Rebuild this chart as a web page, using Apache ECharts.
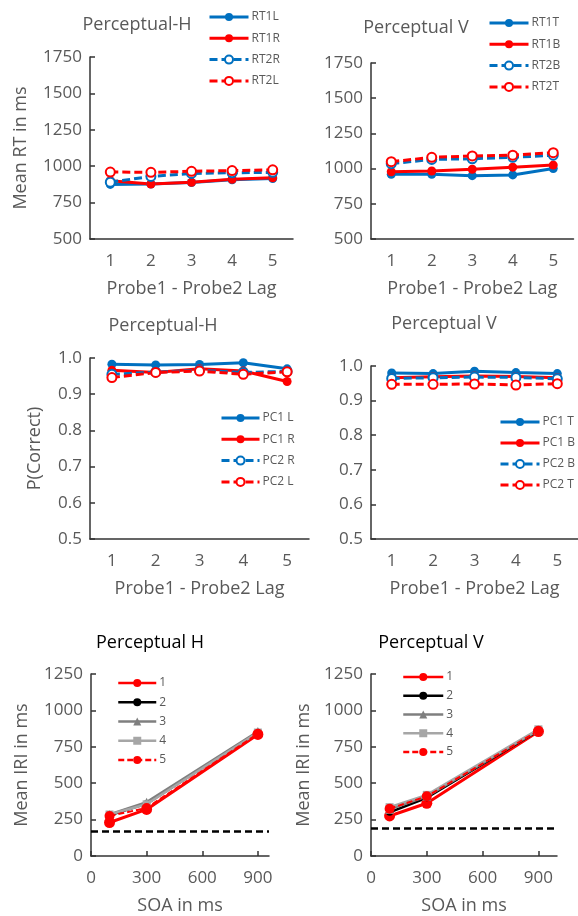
<!DOCTYPE html>
<html>
<head>
<meta charset="utf-8">
<script src="https://cdn.jsdelivr.net/npm/echarts@6/dist/echarts.min.js"></script>
<style>
  html, body { margin: 0; padding: 0; background: #fff; }
  #chart { width: 578px; height: 916px; }
</style>
</head>
<body>
<div id="chart"></div>
<script>
// lag categories (top and middle rows)
const lags = ['1', '2', '3', '4', '5'];

// Perceptual-H, mean RT
const rt1L = [875, 878, 888, 907, 915];
const rt1R = [900, 878, 889, 910, 920];
const rt2R = [890, 930, 950, 955, 958];
const rt2L = [960, 958, 965, 970, 975];

// Perceptual V, mean RT
const rt1T = [960, 960, 950, 955, 1000];
const rt1B = [978, 983, 995, 1010, 1025];
const rt2B = [1035, 1065, 1070, 1080, 1095];
const rt2T = [1049, 1080, 1090, 1095, 1113];

// Perceptual-H, P(correct)
const pc1L = [0.983, 0.981, 0.982, 0.987, 0.970];
const pc1R = [0.966, 0.960, 0.970, 0.964, 0.935];
const pc2R = [0.955, 0.961, 0.966, 0.960, 0.963];
const pc2L = [0.946, 0.960, 0.964, 0.955, 0.962];

// Perceptual V, P(correct)
const pc1T = [0.980, 0.978, 0.985, 0.981, 0.978];
const pc1B = [0.966, 0.969, 0.971, 0.970, 0.966];
const pc2B = [0.964, 0.966, 0.968, 0.967, 0.963];
const pc2T = [0.947, 0.947, 0.948, 0.945, 0.949];

// SOA (ms) and mean IRI, bottom row
const soa = [100, 300, 900];
const iriH1 = [230, 320, 835];
const iriH2 = [280, 360, 850];
const iriH3 = [285, 370, 855];
const iriH4 = [285, 355, 848];
const iriH5 = [275, 330, 840];
const iriV1 = [275, 362, 855];
const iriV2 = [300, 400, 860];
const iriV3 = [320, 410, 865];
const iriV4 = [335, 420, 870];
const iriV5 = [325, 410, 860];
const baselineH = 170;
const baselineV = 190;

const BLUE = '#0070C0';
const RED = '#FF0000';
const GRAY_TXT = '#595959';
const FONT = 'Open Sans';

const chart = echarts.init(document.getElementById('chart'));

function pairs(ys) {
  return soa.map((x, i) => [x, ys[i]]);
}

function lagLine(name, data, color, dashed, idx) {
  return {
    name: name, type: 'line', data: data,
    xAxisIndex: idx, yAxisIndex: idx,
    symbol: dashed ? 'emptyCircle' : 'circle',
    symbolSize: 9,
    lineStyle: { color: color, width: 3, type: dashed ? [8, 4] : 'solid' },
    itemStyle: { color: color, borderColor: color, borderWidth: dashed ? 1.5 : 0 },
    z: dashed ? 3 : 2
  };
}

function iriSeries(name, data, idx, k) {
  const styles = [
    { color: RED, symbol: 'circle', size: 11, width: 3, type: 'solid' },
    { color: '#000000', symbol: 'circle', size: 7, width: 2.5, type: 'solid' },
    { color: '#7F7F7F', symbol: 'triangle', size: 9, width: 2.5, type: 'solid' },
    { color: '#A6A6A6', symbol: 'rect', size: 8, width: 2.5, type: 'solid' },
    { color: RED, symbol: 'circle', size: 10, width: 2, type: [6, 3] }
  ];
  const s = styles[k];
  return {
    name: name, type: 'line', data: pairs(data),
    xAxisIndex: idx, yAxisIndex: idx,
    symbol: s.symbol, symbolSize: s.size,
    lineStyle: { color: s.color, width: s.width, type: s.type },
    itemStyle: { color: s.color }
  };
}

const plain = v => String(v);
const oneDec = v => v.toFixed(1);

function catAxis(idx) {
  return {
    type: 'category', gridIndex: idx, data: lags, boundaryGap: true,
    name: 'Probe1 - Probe2 Lag',
    nameLocation: 'middle', nameGap: 41,
    nameTextStyle: { color: GRAY_TXT, fontSize: 18, fontFamily: FONT },
    axisLine: { lineStyle: { color: '#333', width: 1.5 } },
    axisTick: { alignWithLabel: true, inside: true, length: 5, lineStyle: { color: '#333', width: 1.5 } },
    axisLabel: { color: GRAY_TXT, fontSize: 17, fontFamily: FONT, margin: 14 },
    splitLine: { show: false }
  };
}

function valAxis(idx, min, max, interval, name, gap, fmt) {
  return {
    type: 'value', gridIndex: idx, min: min, max: max, interval: interval,
    name: name, nameLocation: 'middle', nameGap: gap, nameRotate: 90,
    nameTextStyle: { color: GRAY_TXT, fontSize: 18, fontFamily: FONT },
    axisLine: { show: true, lineStyle: { color: '#333', width: 1.5 } },
    axisTick: { show: true, inside: true, length: 5, lineStyle: { color: '#333', width: 1.5 } },
    axisLabel: { color: GRAY_TXT, fontSize: 17, fontFamily: FONT, margin: 8, formatter: fmt || plain },
    splitLine: { show: false }
  };
}

function soaAxis(idx, max) {
  return {
    type: 'value', gridIndex: idx, min: 0, max: max, interval: 300,
    name: 'SOA in ms', nameLocation: 'middle', nameGap: 41,
    nameTextStyle: { color: GRAY_TXT, fontSize: 18, fontFamily: FONT },
    axisLine: { show: true, lineStyle: { color: '#333', width: 1.5 } },
    axisTick: { show: true, inside: true, length: 5, lineStyle: { color: '#333', width: 1.5 } },
    axisLabel: { color: GRAY_TXT, fontSize: 17, fontFamily: FONT, margin: 14, showMaxLabel: max % 300 === 0, formatter: plain },
    splitLine: { show: false }
  };
}

function legend(names, left, top, gap, w, lw) {
  return {
    data: names, orient: 'vertical', left: left, top: top,
    itemWidth: w, itemHeight: 10, itemGap: gap, padding: 0,
    selectedMode: false,
    lineStyle: { width: lw },
    textStyle: { color: GRAY_TXT, fontSize: 12, fontFamily: FONT, padding: [0, 0, 0, -2] }
  };
}

function title(text, x, y, color) {
  return {
    type: 'text', x: x, y: y,
    style: { text: text, fill: color, font: '18px "' + FONT + '"', textAlign: 'center', textVerticalAlign: 'middle' }
  };
}

const iriMark = (v) => ({
  silent: true, symbol: 'none', label: { show: false },
  lineStyle: { color: '#000', width: 2.5, type: [7, 4] },
  data: [{ yAxis: v }]
});

const sH1 = iriSeries('1', iriH1, 4, 0);
sH1.markLine = iriMark(baselineH);
const sV1 = iriSeries('1', iriV1, 5, 0);
sV1.markLine = iriMark(baselineV);

chart.setOption({
  animation: false,
  textStyle: { fontFamily: FONT },
  grid: [
    { left: 90, top: 57, width: 203, height: 182 },
    { left: 371, top: 63, width: 202.5, height: 176 },
    { left: 90, top: 358, width: 219, height: 181 },
    { left: 371, top: 366, width: 215, height: 173 },
    { left: 91, top: 674, width: 178, height: 182 },
    { left: 371, top: 674, width: 186, height: 182 }
  ],
  xAxis: [
    catAxis(0), catAxis(1), catAxis(2), catAxis(3),
    soaAxis(4, 960), soaAxis(5, 1000)
  ],
  yAxis: [
    valAxis(0, 500, 1750, 250, 'Mean RT in ms', 60),
    valAxis(1, 500, 1750, 250, '', 50),
    valAxis(2, 0.5, 1.0, 0.1, 'P(Correct)', 46, oneDec),
    valAxis(3, 0.5, 1.0, 0.1, '', 44, oneDec),
    valAxis(4, 0, 1250, 250, 'Mean IRI in ms', 60),
    valAxis(5, 0, 1250, 250, 'Mean IRI in ms', 58)
  ],
  legend: [
    legend(['RT1L', 'RT1R', 'RT2R', 'RT2L'], 208, 11, 9.3, 39, 3),
    legend(['RT1T', 'RT1B', 'RT2B', 'RT2T'], 488, 17, 9.3, 39, 3),
    legend(['PC1 L', 'PC1 R', 'PC2 R', 'PC2 L'], 220, 412, 9.3, 38, 3),
    legend(['PC1 T', 'PC1 B', 'PC2 B', 'PC2 T'], 499, 416, 9, 39, 3),
    legend(['1', '2', '3', '4', '5'], 117, 677, 7.25, 38, 2.5),
    legend(['1', '2', '3', '4', '5'], 402, 671, 6.75, 40, 2.5)
  ],
  graphic: [
    title('Perceptual-H', 137, 25, GRAY_TXT),
    title('Perceptual V', 416, 28, GRAY_TXT),
    title('Perceptual-H', 163, 326, GRAY_TXT),
    title('Perceptual V', 444, 324, GRAY_TXT),
    title('Perceptual H', 150, 643, '#000'),
    title('Perceptual V', 431, 643, '#000')
  ],
  series: [
    lagLine('RT1L', rt1L, BLUE, false, 0),
    lagLine('RT1R', rt1R, RED, false, 0),
    lagLine('RT2R', rt2R, BLUE, true, 0),
    lagLine('RT2L', rt2L, RED, true, 0),
    lagLine('RT1T', rt1T, BLUE, false, 1),
    lagLine('RT1B', rt1B, RED, false, 1),
    lagLine('RT2B', rt2B, BLUE, true, 1),
    lagLine('RT2T', rt2T, RED, true, 1),
    lagLine('PC1 L', pc1L, BLUE, false, 2),
    lagLine('PC1 R', pc1R, RED, false, 2),
    lagLine('PC2 R', pc2R, BLUE, true, 2),
    lagLine('PC2 L', pc2L, RED, true, 2),
    lagLine('PC1 T', pc1T, BLUE, false, 3),
    lagLine('PC1 B', pc1B, RED, false, 3),
    lagLine('PC2 B', pc2B, BLUE, true, 3),
    lagLine('PC2 T', pc2T, RED, true, 3),
    sH1,
    iriSeries('2', iriH2, 4, 1),
    iriSeries('3', iriH3, 4, 2),
    iriSeries('4', iriH4, 4, 3),
    iriSeries('5', iriH5, 4, 4),
    sV1,
    iriSeries('2', iriV2, 5, 1),
    iriSeries('3', iriV3, 5, 2),
    iriSeries('4', iriV4, 5, 3),
    iriSeries('5', iriV5, 5, 4)
  ]
});
</script>
</body>
</html>
